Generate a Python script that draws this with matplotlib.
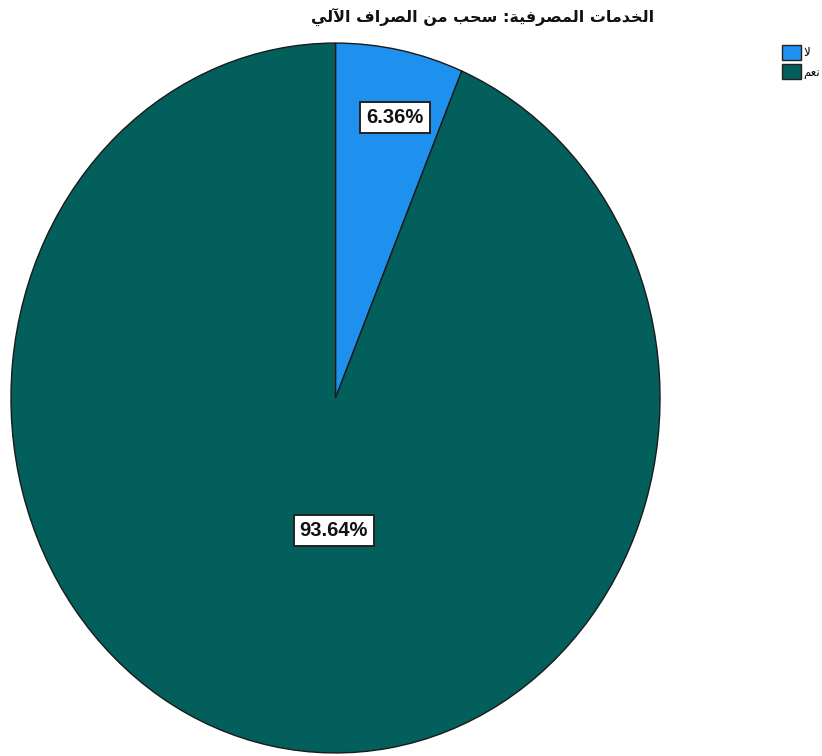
import matplotlib
matplotlib.use("Agg")
import matplotlib.pyplot as plt
from matplotlib.patches import Patch

# data
categories = ["لا", "نعم"]
shares = [6.36, 93.64]
colors = ["#1e90ee", "#025f5b"]
title_text = "الخدمات المصرفية: سحب من الصراف الآلي"

# Arabic presentation forms: (isolated, final, initial, medial)
FORMS = {
    'ا': (0xFE8D, 0xFE8E, None, None),
    'آ': (0xFE81, 0xFE82, None, None),
    'ب': (0xFE8F, 0xFE90, 0xFE91, 0xFE92),
    'ة': (0xFE93, 0xFE94, None, None),
    'ت': (0xFE95, 0xFE96, 0xFE97, 0xFE98),
    'ح': (0xFEA1, 0xFEA2, 0xFEA3, 0xFEA4),
    'خ': (0xFEA5, 0xFEA6, 0xFEA7, 0xFEA8),
    'د': (0xFEA9, 0xFEAA, None, None),
    'ر': (0xFEAD, 0xFEAE, None, None),
    'س': (0xFEB1, 0xFEB2, 0xFEB3, 0xFEB4),
    'ص': (0xFEB9, 0xFEBA, 0xFEBB, 0xFEBC),
    'ع': (0xFEC9, 0xFECA, 0xFECB, 0xFECC),
    'ف': (0xFED1, 0xFED2, 0xFED3, 0xFED4),
    'ل': (0xFEDD, 0xFEDE, 0xFEDF, 0xFEE0),
    'م': (0xFEE1, 0xFEE2, 0xFEE3, 0xFEE4),
    'ن': (0xFEE5, 0xFEE6, 0xFEE7, 0xFEE8),
    'ي': (0xFEF1, 0xFEF2, 0xFEF3, 0xFEF4),
}
LAM_ALEF = {'ا': (0xFEFB, 0xFEFC), 'آ': (0xFEF5, 0xFEF6)}


def shape(text):
    """Join Arabic letters and return them in left-to-right drawing order."""
    tokens = []
    i = 0
    while i < len(text):
        c = text[i]
        if c == 'ل' and i + 1 < len(text) and text[i + 1] in LAM_ALEF:
            tokens.append(('LA', text[i + 1]))
            i += 2
        else:
            tokens.append(('C', c))
            i += 1

    def joins_next(tok):
        if tok[0] == 'LA':
            return False
        f = FORMS.get(tok[1])
        return f is not None and f[2] is not None

    def joinable(tok):
        return tok[0] == 'LA' or tok[1] in FORMS

    out = []
    for k, tok in enumerate(tokens):
        prev = tokens[k - 1] if k > 0 else None
        nxt = tokens[k + 1] if k + 1 < len(tokens) else None
        jp = prev is not None and joins_next(prev) and joinable(tok)
        if tok[0] == 'LA':
            iso, fin = LAM_ALEF[tok[1]]
            out.append(chr(fin if jp else iso))
            continue
        f = FORMS.get(tok[1])
        if f is None:
            out.append(tok[1])
            continue
        jn = nxt is not None and joins_next(tok) and joinable(nxt)
        iso, fin, ini, med = f
        if jp and jn:
            g = med
        elif jp:
            g = fin
        elif jn:
            g = ini
        else:
            g = iso
        out.append(chr(g))
    return ''.join(reversed(out))


fig = plt.figure(figsize=(8.22, 7.56), dpi=100)
ax = fig.add_axes([10 / 822, 2 / 756, 651 / 822, 712 / 756])

wedges, _ = ax.pie(shares, colors=colors, startangle=90, counterclock=False,
                   wedgeprops=dict(edgecolor="#1a1a1a", linewidth=1.0))
ax.set_xlim(-1.003, 1.003)
ax.set_ylim(-1.003, 1.003)
ax.set_aspect("auto")
ax.axis("off")

# percentage boxes
label_pos = [(0.183, 0.789), (-0.005, -0.374)]
for val, (x, y) in zip(shares, label_pos):
    ax.text(x, y, f"{val:.2f}%", ha="center", va="center", fontsize=14.5,
            fontweight="bold", family=["Liberation Sans", "DejaVu Sans"],
            color="#111111",
            bbox=dict(boxstyle="square,pad=0.3", facecolor="white",
                      edgecolor="#222222", linewidth=1.4))

fig.text(483 / 822, 1 - 17 / 756, shape(title_text), ha="center", va="center",
         fontsize=11.5, fontweight="bold", family=["DejaVu Sans"], color="#111111")

handles = [Patch(facecolor=c, edgecolor="#222222", linewidth=1.0) for c in colors]
fig.legend(handles, [shape(c) for c in categories], loc="upper left",
           bbox_to_anchor=(782 / 822, 1 - 45 / 756), frameon=False,
           handlelength=1.6, handleheight=1.6, handletextpad=0.2,
           labelspacing=0.35, borderpad=0, borderaxespad=0,
           prop=dict(family="DejaVu Sans", size=8.5))

fig.savefig("out.png", dpi=100, facecolor="white")
